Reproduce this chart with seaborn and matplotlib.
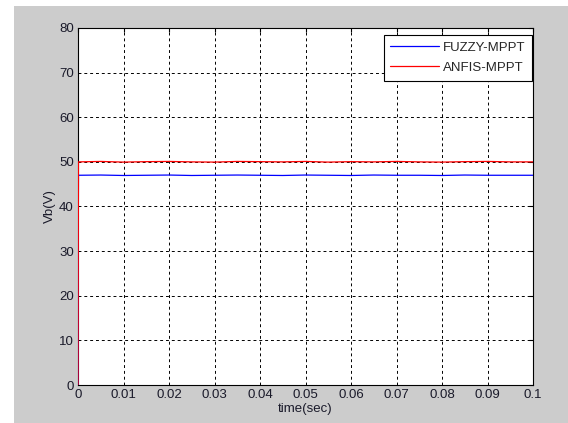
import numpy as np
import pandas as pd
import matplotlib
matplotlib.use("Agg")
import matplotlib.pyplot as plt
import seaborn as sns
from matplotlib.patches import Rectangle

# =====================================================
# DATA
# =====================================================

time_sec = [0.0, 0.0001, 0.005, 0.01, 0.015, 0.02, 0.025, 0.03, 0.035, 0.04,
            0.045, 0.05, 0.055, 0.06, 0.065, 0.07, 0.075, 0.08, 0.085, 0.09,
            0.095, 0.1]

fuzzy_vb = [0.0, 47.0, 47.05, 46.95, 47.0, 47.05, 46.95, 47.0, 47.05, 47.0,
            46.95, 47.05, 47.0, 46.95, 47.05, 47.0, 47.0, 46.95, 47.05, 47.0,
            47.0, 47.0]

anfis_vb = [0.0, 50.0, 50.1, 49.95, 50.05, 50.1, 50.0, 49.95, 50.1, 50.05,
            50.0, 50.1, 49.95, 50.05, 50.0, 50.1, 50.0, 49.95, 50.05, 50.1,
            50.0, 50.0]

series_names = ["FUZZY-MPPT", "ANFIS-MPPT"]
series_colors = ["#0000ff", "#ff0000"]

df = pd.DataFrame({
    "time": time_sec * 2,
    "Vb": fuzzy_vb + anfis_vb,
    "method": [series_names[0]] * len(time_sec) + [series_names[1]] * len(time_sec),
})

# =====================================================
# PLOT
# =====================================================

sns.set_style("white")
plt.rcParams["font.family"] = ["Liberation Sans", "DejaVu Sans"]
plt.rcParams["font.size"] = 9.5
text_col = "#1a1a2a"

fig = plt.figure(figsize=(5.68, 4.23), dpi=100, facecolor="white")
fig.patches.append(Rectangle((14 / 568, 0), 1, 1 - 6 / 423,
                             transform=fig.transFigure, facecolor="#cccccc",
                             edgecolor="none", zorder=-10))

ax = fig.add_axes([78 / 568, 1 - 385 / 423, (533 - 78) / 568, (385 - 28) / 423])
ax.set_facecolor("white")

sns.lineplot(
    data=df, x="time", y="Vb", hue="method",
    palette=series_colors, linewidth=0.9, ax=ax, zorder=3,
)

ax.set_xlim(0, 0.1)
ax.set_ylim(0, 80)
ax.set_xticks(np.arange(0, 0.1001, 0.01))
ax.set_xticklabels(["0", "0.01", "0.02", "0.03", "0.04", "0.05",
                    "0.06", "0.07", "0.08", "0.09", "0.1"])
ax.set_yticks(np.arange(0, 81, 10))

ax.grid(True, color="black", linestyle=(0, (3, 3)), linewidth=0.7)
ax.tick_params(direction="in", top=True, right=True, length=3,
               color="black", labelcolor=text_col, labelsize=9.5, pad=3)
for s in ax.spines.values():
    s.set_color("black")
    s.set_linewidth(0.8)

ax.set_xlabel("time(sec)", labelpad=1, color=text_col, fontsize=9.5)
ax.set_ylabel("Vb(V)", labelpad=2, color=text_col, fontsize=9.5)

leg = ax.legend(loc="upper right", bbox_to_anchor=(1 - 1 / 455, 1 - 7 / 357),
                frameon=True, fancybox=False,
                edgecolor="black", framealpha=1, borderaxespad=0,
                handlelength=3.7, fontsize=9.5, borderpad=0.5,
                labelspacing=0.6, handletextpad=0.3)
leg.get_frame().set_linewidth(0.8)
leg.set_zorder(5)

plt.savefig("out.png", dpi=100, facecolor=fig.get_facecolor())
